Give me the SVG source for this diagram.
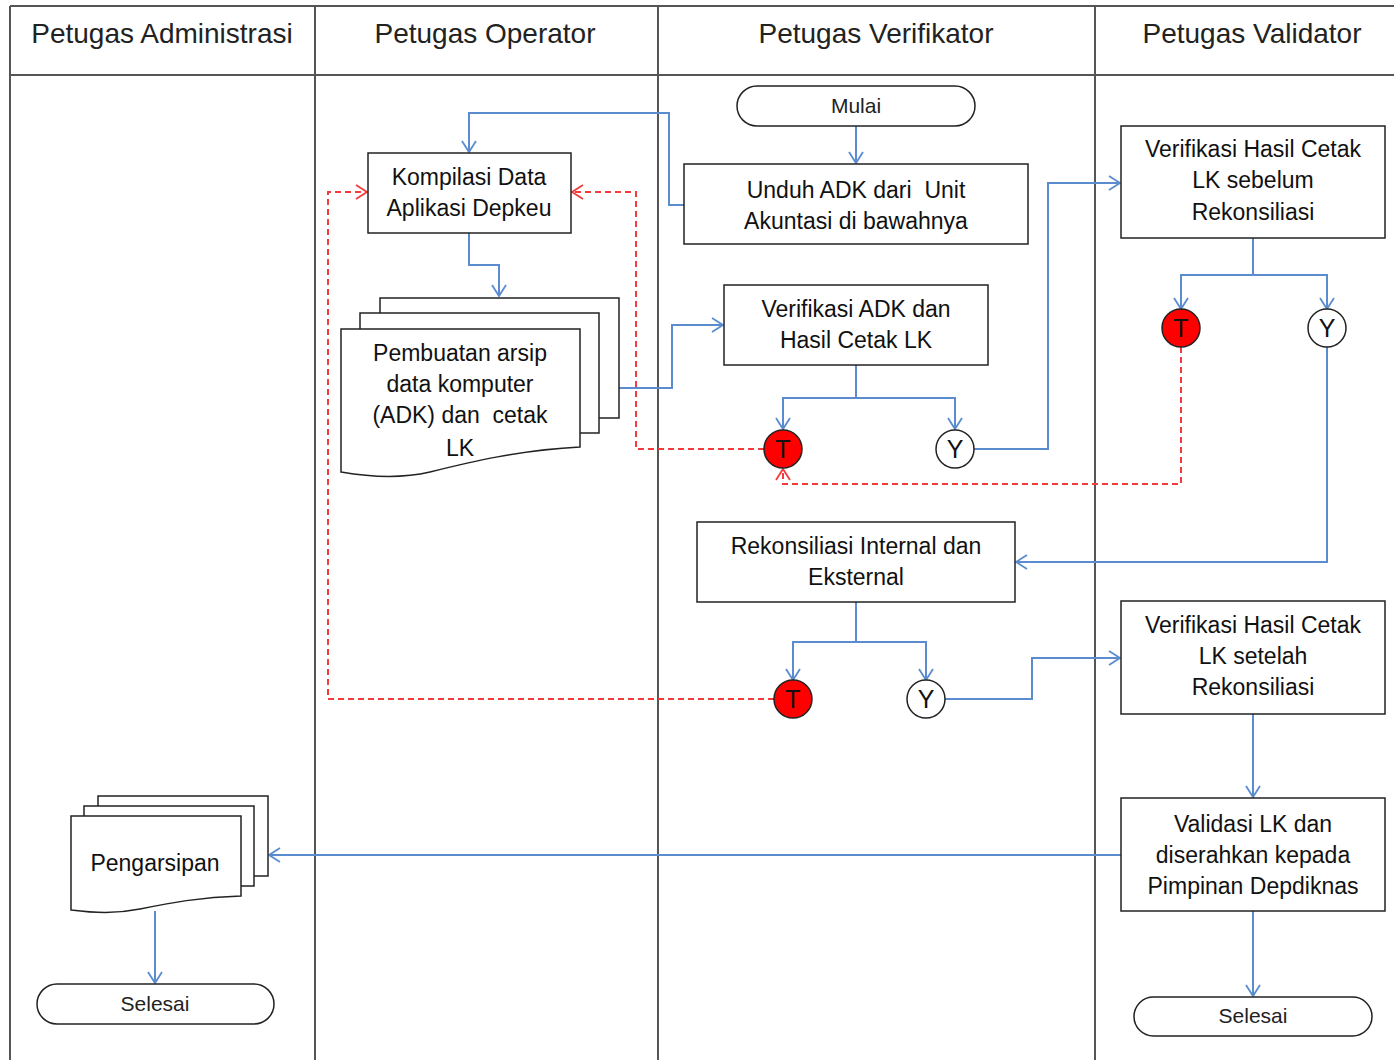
<svg xmlns="http://www.w3.org/2000/svg" width="1394" height="1060" viewBox="0 0 1394 1060">
<style>
.lane{stroke:#555;stroke-width:2;fill:none}
.box{fill:#fff;stroke:#222;stroke-width:1.5}
.t{font-family:"Liberation Sans",Arial,sans-serif;font-size:23px;fill:#111;text-anchor:middle;white-space:pre}
.p{font-family:"Liberation Sans",Arial,sans-serif;font-size:21px;fill:#222;text-anchor:middle}
.h{font-family:"Liberation Sans",Arial,sans-serif;font-size:28px;fill:#222;text-anchor:middle}
.c{font-family:"Liberation Sans",Arial,sans-serif;font-size:25px;fill:#111;text-anchor:middle}
.b{stroke:#5a8ccf;stroke-width:2;fill:none}
.r{stroke:#f23c3c;stroke-width:2;fill:none;stroke-dasharray:6,4}
</style>
<defs>
<marker id="ab" markerWidth="16" markerHeight="16" refX="13" refY="8" orient="auto" markerUnits="userSpaceOnUse"><path d="M2,1 L13,8 L2,15" fill="none" stroke="#5a8ccf" stroke-width="1.8"/></marker>
<marker id="ar" markerWidth="16" markerHeight="16" refX="13" refY="8" orient="auto" markerUnits="userSpaceOnUse"><path d="M2,1 L13,8 L2,15" fill="none" stroke="#f23c3c" stroke-width="1.8"/></marker>
</defs>
<rect width="1394" height="1060" fill="#fff"/>
<g id="lanes">
<path class="lane" d="M10,6 H1394 M10,75 H1394 M10,6 V1060 M315,6 V1060 M658,6 V1060 M1095,6 V1060"/>
<text class="h" x="162" y="43">Petugas Administrasi</text>
<text class="h" x="485" y="43">Petugas Operator</text>
<text class="h" x="876" y="43">Petugas Verifikator</text>
<text class="h" x="1252" y="43">Petugas Validator</text>
</g>
<g id="connectors">
<path class="b" d="M856,126 V163" marker-end="url(#ab)"/>
<path class="b" d="M684,205 H669 V113 H469 V152" marker-end="url(#ab)"/>
<path class="b" d="M469,233 V265 H499 V296" marker-end="url(#ab)"/>
<path class="b" d="M619,388 H672 V325 H723" marker-end="url(#ab)"/>
<path class="b" d="M856,365 V398 H783 V429" marker-end="url(#ab)"/>
<path class="b" d="M856,398 H955 V429" marker-end="url(#ab)"/>
<path class="b" d="M974,449 H1048 V183 H1120" marker-end="url(#ab)"/>
<path class="r" d="M764,449 H636 V192 H572" marker-end="url(#ar)"/>
<path class="b" d="M1253,238 V275 H1181 V309" marker-end="url(#ab)"/>
<path class="b" d="M1253,275 H1327 V309" marker-end="url(#ab)"/>
<path class="r" d="M1181,347 V484 H783 V469" marker-end="url(#ar)"/>
<path class="b" d="M1327,347 V562 H1016" marker-end="url(#ab)"/>
<path class="b" d="M856,602 V642 H793 V680" marker-end="url(#ab)"/>
<path class="b" d="M856,642 H926 V680" marker-end="url(#ab)"/>
<path class="r" d="M774,699 H328 V192 H367" marker-end="url(#ar)"/>
<path class="b" d="M945,699 H1032 V658 H1120" marker-end="url(#ab)"/>
<path class="b" d="M1253,714 V797" marker-end="url(#ab)"/>
<path class="b" d="M1121,855 H269" marker-end="url(#ab)"/>
<path class="b" d="M1253,911 V996" marker-end="url(#ab)"/>
<path class="b" d="M155,911 V983" marker-end="url(#ab)"/>
</g>
<g id="mulai">
<rect class="box" x="737" y="86" width="238" height="40" rx="20"/>
<text class="p" x="856" y="113">Mulai</text>
</g>
<g id="unduh">
<rect class="box" x="684" y="164" width="344" height="80"/>
<text class="t" x="856" y="198">Unduh ADK dari  Unit</text>
<text class="t" x="856" y="229">Akuntasi di bawahnya</text>
</g>
<g id="kompilasi">
<rect class="box" x="368" y="153" width="203" height="80"/>
<text class="t" x="469" y="185">Kompilasi Data</text>
<text class="t" x="469" y="216">Aplikasi Depkeu</text>
</g>
<g id="pembuatan">
<rect class="box" x="380" y="298" width="239" height="120"/>
<rect class="box" x="360" y="313" width="239" height="120"/>
<path class="box" d="M341,329 H580 V447 C520,450 470,462 430,472 C400,479 370,477 341,472 Z"/>
<text class="t" x="460" y="361">Pembuatan arsip</text>
<text class="t" x="460" y="392">data komputer</text>
<text class="t" x="460" y="423">(ADK) dan  cetak</text>
<text class="t" x="460" y="456">LK</text>
</g>
<g id="verifikasi-adk">
<rect class="box" x="724" y="285" width="264" height="80"/>
<text class="t" x="856" y="317">Verifikasi ADK dan</text>
<text class="t" x="856" y="348">Hasil Cetak LK</text>
</g>
<g id="t1"><circle cx="783" cy="449" r="19" fill="#f00" stroke="#222" stroke-width="1.5"/><text class="c" x="783" y="458">T</text></g>
<g id="y1"><circle cx="955" cy="449" r="19" fill="#fff" stroke="#222" stroke-width="1.5"/><text class="c" x="955" y="458">Y</text></g>
<g id="verifikasi-sebelum">
<rect class="box" x="1121" y="126" width="264" height="112"/>
<text class="t" x="1253" y="157">Verifikasi Hasil Cetak</text>
<text class="t" x="1253" y="188">LK sebelum</text>
<text class="t" x="1253" y="220">Rekonsiliasi</text>
</g>
<g id="t3"><circle cx="1181" cy="328" r="19" fill="#f00" stroke="#222" stroke-width="1.5"/><text class="c" x="1181" y="337">T</text></g>
<g id="y3"><circle cx="1327" cy="328" r="19" fill="#fff" stroke="#222" stroke-width="1.5"/><text class="c" x="1327" y="337">Y</text></g>
<g id="rekonsiliasi">
<rect class="box" x="697" y="522" width="318" height="80"/>
<text class="t" x="856" y="554">Rekonsiliasi Internal dan</text>
<text class="t" x="856" y="585">Eksternal</text>
</g>
<g id="t2"><circle cx="793" cy="699" r="19" fill="#f00" stroke="#222" stroke-width="1.5"/><text class="c" x="793" y="708">T</text></g>
<g id="y2"><circle cx="926" cy="699" r="19" fill="#fff" stroke="#222" stroke-width="1.5"/><text class="c" x="926" y="708">Y</text></g>
<g id="verifikasi-setelah">
<rect class="box" x="1121" y="601" width="264" height="113"/>
<text class="t" x="1253" y="633">Verifikasi Hasil Cetak</text>
<text class="t" x="1253" y="664">LK setelah</text>
<text class="t" x="1253" y="695">Rekonsiliasi</text>
</g>
<g id="validasi">
<rect class="box" x="1121" y="798" width="264" height="113"/>
<text class="t" x="1253" y="832">Validasi LK dan</text>
<text class="t" x="1253" y="863">diserahkan kepada</text>
<text class="t" x="1253" y="894">Pimpinan Depdiknas</text>
</g>
<g id="selesai-kanan">
<rect class="box" x="1134" y="997" width="238" height="39" rx="19.5"/>
<text class="p" x="1253" y="1023">Selesai</text>
</g>
<g id="pengarsipan">
<rect class="box" x="98" y="796" width="170" height="80"/>
<rect class="box" x="84" y="806" width="170" height="80"/>
<path class="box" d="M71,816 H241 V896 C200,897 170,903 140,909 C115,914 95,913 71,910 Z"/>
<text class="t" x="155" y="871">Pengarsipan</text>
</g>
<g id="selesai-kiri">
<rect class="box" x="37" y="984" width="237" height="40" rx="20"/>
<text class="p" x="155" y="1011">Selesai</text>
</g>
</svg>
